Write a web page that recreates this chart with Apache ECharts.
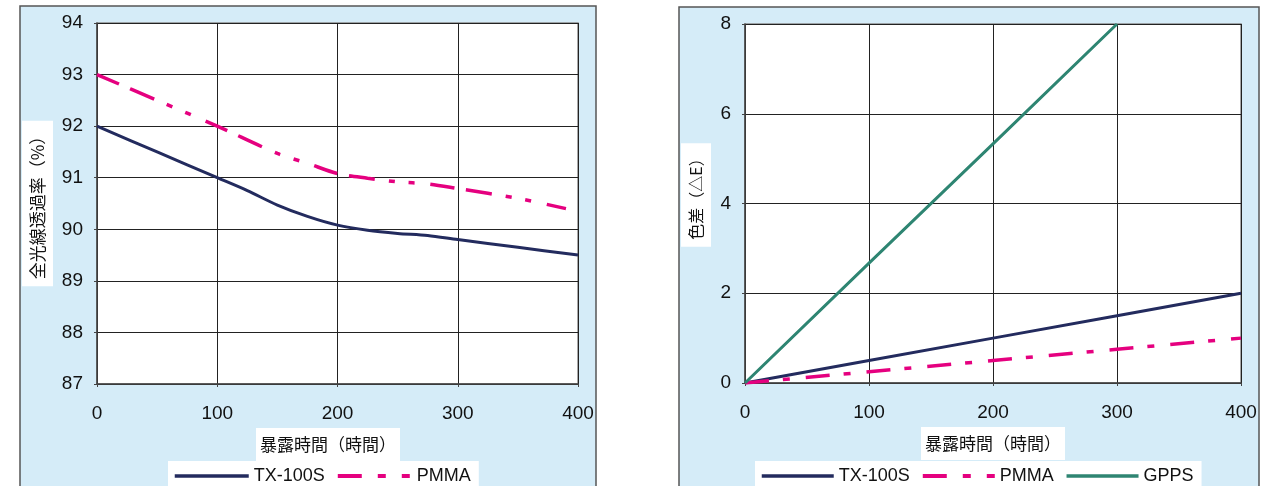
<!DOCTYPE html>
<html>
<head>
<meta charset="utf-8">
<script src="https://cdn.jsdelivr.net/npm/echarts@6/dist/echarts.min.js"></script>
<style>
html,body{margin:0;padding:0;background:#fff;}
#c{width:1277px;height:486px;}
</style>
</head>
<body>
<div id="c"></div>
<script>
// ---- data ----
const leftTX = [[0,92],[50,91.5],[100,91.0],[125,90.75],[150,90.47],[175,90.25],[200,90.08],[225,89.98],[250,89.92],[275,89.88],[300,89.8],[350,89.65],[400,89.5]];
const leftPMMA = [[0,93],[50,92.5],[100,92.0],[150,91.47],[175,91.28],[200,91.08],[225,90.99],[250,90.92],[275,90.88],[300,90.79],[350,90.6],[390,90.4]];
const rightTX = [[0,0],[100,0.5],[200,1.0],[300,1.5],[400,2.0]];
const rightPMMA = [[0,0],[100,0.25],[200,0.5],[300,0.75],[400,1.0]];
const rightGPPS = [[0,0],[100,2.67],[200,5.33],[300,8]];
const xName = '暴露時間（時間）';
const yNameLeft = '全光線透過率（%）';
const yNameRight = '色差（△E）';
const legendLeft = ['TX-100S','PMMA'];
const legendRight = ['TX-100S','PMMA','GPPS'];

const NAVY = '#232b5e', MAG = '#e5007f', GREEN = '#2e8572';
const NUM_FONT = "'Liberation Sans', Arial, sans-serif";
const CJK_FONT = "'Noto Sans CJK JP', sans-serif";
const DASH_L = [24,12,26,14,6,14,6,16];
const DASH_R = [24,14,7,16];

function boxStyle(size, pad){
  return {fontFamily:CJK_FONT,fontSize:size,color:'#111',backgroundColor:'#fff',padding:pad};
}

function xAxis(gi){
  return {
    gridIndex: gi, type:'value', min:0, max:400, interval:100,
    name: gi===0 ? '{a|' + xName + '}{s|}' : '{a|' + xName + '}',
    nameLocation:'middle', nameGap:41,
    nameTextStyle:{fontFamily:CJK_FONT,fontSize:17,color:'#111',
      rich:{a:boxStyle(17,[8,4,8,4]), s:{width:19,fontSize:17}}},
    axisLine:{show:true,lineStyle:{color:'#444',width:1.5}},
    axisTick:{show:true,length:3,lineStyle:{color:'#444'}},
    axisLabel:{fontFamily:NUM_FONT,fontSize:19,color:'#111',margin:20},
    splitLine:{show:true,lineStyle:{color:'#222',width:1}}
  };
}
function yAxis(gi,min,max,interval,name,gap){
  const size = gi===0 ? 17 : 16;
  return {
    gridIndex: gi, type:'value', min:min, max:max, interval:interval,
    name: gi===0 ? '{a|' + name + '}' : '{s|}{a|' + name + '}',
    nameLocation:'middle', nameRotate:90, nameGap:gap,
    nameTextStyle:{fontFamily:CJK_FONT,fontSize:size,color:'#111',
      rich:{a:boxStyle(size,[7,7,7,7]), s:{width:17,fontSize:size}}},
    axisLine:{show:true,lineStyle:{color:'#444',width:1.5}},
    axisTick:{show:true,length:3,lineStyle:{color:'#444'}},
    axisLabel:{fontFamily:NUM_FONT,fontSize:19,color:'#111',margin:14},
    splitLine:{show:true,lineStyle:{color:'#222',width:1}}
  };
}

const chart = echarts.init(document.getElementById('c'));
chart.setOption({
  backgroundColor:'#fff',
  animation:false,
  graphic:[
    {type:'rect',z:-10,shape:{x:20,y:6,width:576,height:500},style:{fill:'#d5ecf8',stroke:'#555',lineWidth:1.5}},
    {type:'rect',z:-10,shape:{x:679,y:7,width:580,height:500},style:{fill:'#d5ecf8',stroke:'#555',lineWidth:1.5}}
  ],
  grid:[
    {left:97,top:23,width:481,height:361,show:true,backgroundColor:'#fff',borderColor:'#8a8a8a',borderWidth:1.5},
    {left:745,top:24,width:496,height:359,show:true,backgroundColor:'#fff',borderColor:'#8a8a8a',borderWidth:1.5}
  ],
  xAxis:[xAxis(0),xAxis(1)],
  yAxis:[yAxis(0,87,94,1,yNameLeft,44), yAxis(1,0,8,2,yNameRight,34)],
  legend:[
    {left:168,top:461,padding:[6,8,8,5],backgroundColor:'#fff',itemWidth:74,itemHeight:12,itemGap:11,
     itemStyle:{opacity:0},
     textStyle:{fontFamily:NUM_FONT,fontSize:18,color:'#111'},
     data:[{name:legendLeft[0],lineStyle:{width:3.5}},{name:legendLeft[1],lineStyle:{width:4,type:[24,16,8,16,8,4]}}],
     selectedMode:false},
    {left:755,top:461,padding:[6,8,8,5],backgroundColor:'#fff',itemWidth:72,itemHeight:12,itemGap:11,
     itemStyle:{opacity:0},
     textStyle:{fontFamily:NUM_FONT,fontSize:18,color:'#111'},
     data:[{name:legendRight[0],lineStyle:{width:3.5}},{name:legendRight[1],lineStyle:{width:4,type:[24,16,8,16,8,4]}},{name:legendRight[2],lineStyle:{width:3.5}}],
     selectedMode:false}
  ],
  series:[
    {name:'TX-100S',type:'line',xAxisIndex:0,yAxisIndex:0,data:leftTX,smooth:0.3,symbol:'none',
     lineStyle:{color:NAVY,width:3},itemStyle:{color:NAVY}},
    {name:'PMMA',type:'line',xAxisIndex:0,yAxisIndex:0,data:leftPMMA,smooth:0.3,symbol:'none',
     lineStyle:{color:MAG,width:3.5,type:DASH_L},itemStyle:{color:MAG}},
    {name:'TX-100S',type:'line',xAxisIndex:1,yAxisIndex:1,data:rightTX,symbol:'none',
     lineStyle:{color:NAVY,width:3},itemStyle:{color:NAVY}},
    {name:'PMMA',type:'line',xAxisIndex:1,yAxisIndex:1,data:rightPMMA,symbol:'none',
     lineStyle:{color:MAG,width:3.5,type:DASH_R},itemStyle:{color:MAG}},
    {name:'GPPS',type:'line',xAxisIndex:1,yAxisIndex:1,data:rightGPPS,symbol:'none',
     lineStyle:{color:GREEN,width:3},itemStyle:{color:GREEN}}
  ]
});
</script>
</body>
</html>
